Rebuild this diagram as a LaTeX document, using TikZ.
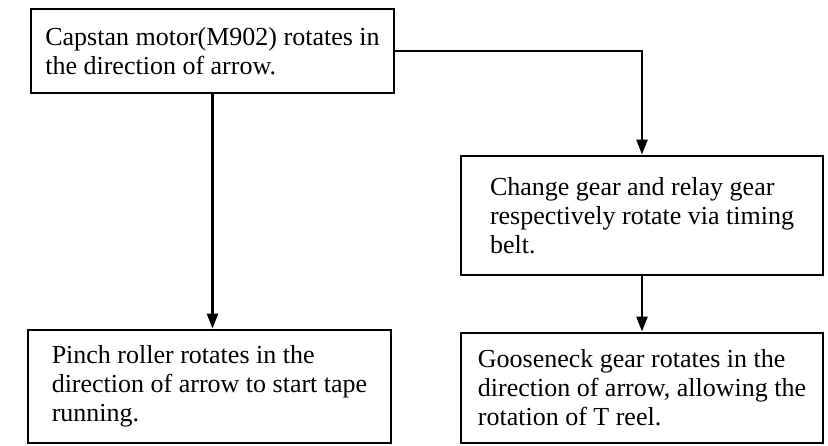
\documentclass[tikz,border=0pt]{standalone}
\usepackage{fontspec}
\setmainfont{Liberation Serif}
\usetikzlibrary{arrows.meta}

\begin{document}
\begin{tikzpicture}[x=1pt, y=-1pt, every node/.style={font=\fontsize{26}{29}\selectfont}, >={Triangle[length=15pt,width=11pt]},
	stepbox/.style={draw, line width=2.8pt, align=left, anchor=center}]
	\useasboundingbox (0,0) rectangle (828,446);
	\node[stepbox, minimum width=363pt, minimum height=84pt] (capstan) at (212.5,51) {Capstan motor(M902) rotates in\\the direction of arrow.};
	\node[stepbox, minimum width=362pt, minimum height=119pt] (change) at (642,215.5) {Change gear and relay gear\\respectively rotate via timing\\belt.};
	\node[stepbox, minimum width=363pt, minimum height=113pt] (pinch) at (209.5,386.5) {Pinch roller rotates in the\\direction of arrow to start tape\\running.};
	\node[stepbox, minimum width=362pt, minimum height=110pt] (goose) at (642,388) {Gooseneck gear rotates in the\\direction of arrow, allowing the\\rotation of T reel.};
	\draw[->, line width=2.4pt] (capstan.south) -- (capstan.south |- pinch.north);
	\draw[->, line width=2.4pt] (capstan.east) -| (change.north);
	\draw[->, line width=2.4pt] (change.south) -- (goose.north);
\end{tikzpicture}
\end{document}
